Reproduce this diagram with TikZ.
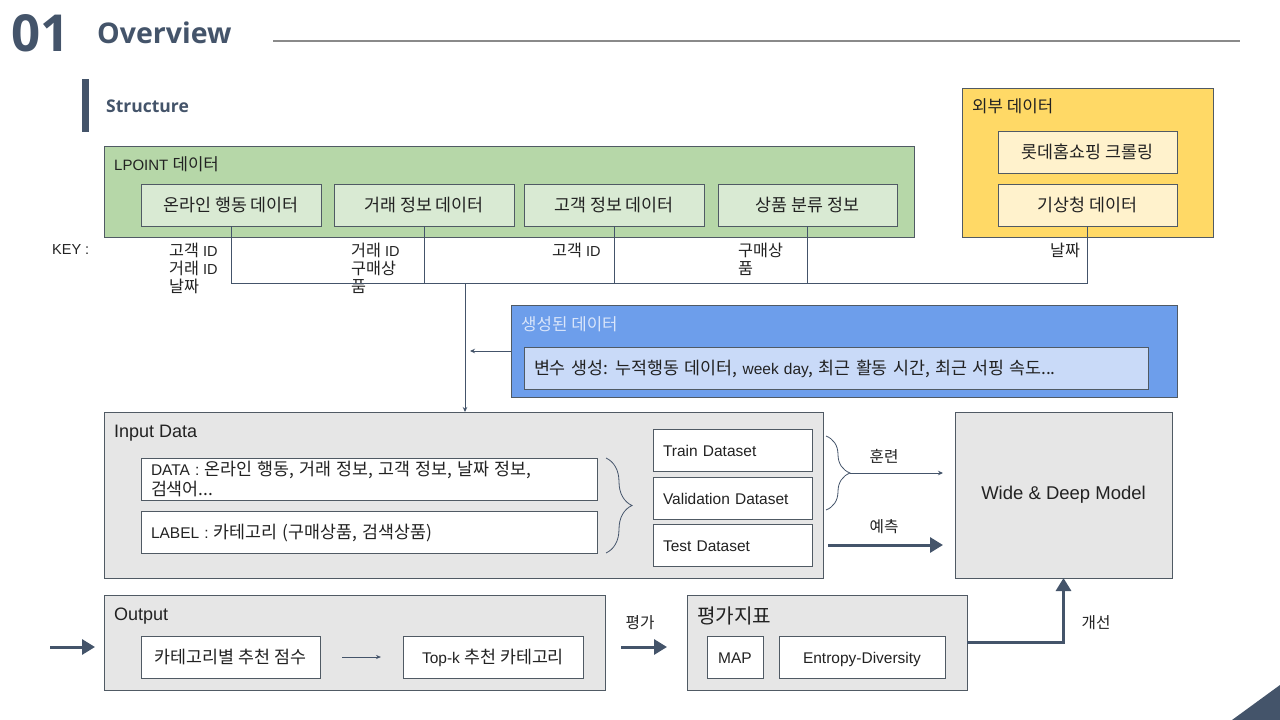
\documentclass[tikz,border=0pt]{standalone}
\usepackage{fontspec}
\setmainfont{Liberation Sans}
\newfontfamily\kr[Scale=1.12]{Noto Sans CJK KR}
\newfontfamily\hd{Open Sans}
\usetikzlibrary{arrows.meta,decorations.pathreplacing,calc}
\definecolor{slate}{HTML}{44546A}
\definecolor{bord}{HTML}{505A64}
\definecolor{txt}{HTML}{222222}
\definecolor{grn}{HTML}{B6D7A8}
\definecolor{grnl}{HTML}{D9EAD3}
\definecolor{org}{HTML}{FFD966}
\definecolor{orgl}{HTML}{FFF2CC}
\definecolor{blu}{HTML}{6D9EEB}
\definecolor{blul}{HTML}{C9DAF8}
\definecolor{gry}{HTML}{E6E6E6}
\definecolor{rulec}{HTML}{8A8A8A}
\tikzset{
  frame/.style={draw=bord, line width=0.8pt, anchor=north west, inner sep=0pt, outer sep=0pt},
  cell/.style={frame, font=\fontsize{15.5}{18}\selectfont, text=txt, text height=15pt, text depth=2pt},
  ttl/.style={anchor=west, inner sep=0pt, font=\fontsize{15}{18}\selectfont, text=txt},
  bigttl/.style={anchor=west, inner sep=0pt, font=\fontsize{18}{21}\selectfont, text=txt},
  keylbl/.style={anchor=north west, inner sep=0pt, align=left, font=\fontsize{14.5}{18}\selectfont, text=txt},
  small/.style={inner sep=0pt, font=\fontsize{14}{17}\selectfont, text=txt},
  conn/.style={draw=slate, line width=0.9pt},
  thinarrow/.style={conn, -{Stealth[length=5pt,width=4.5pt]}},
  fatarrow/.style={draw=slate, line width=3pt, -{Triangle[length=13pt,width=15pt]}},
  bracestyle/.style={draw=slate, line width=0.8pt, decorate},
}
\begin{document}
\begin{tikzpicture}[x=1pt,y=-1pt]
\useasboundingbox[fill=white] (0,0) rectangle (1280,720);

% header
\node[anchor=west, inner sep=0pt, text=slate, font=\hd\bfseries\fontsize{51}{55}\selectfont] (num) at (11,33) {01};
\node[anchor=west, inner sep=0pt, text=slate, font=\hd\bfseries\fontsize{28.5}{32}\selectfont] (ov) at (97,33) {Overview};
\coordinate (ruleA) at (273,41);
\coordinate (ruleB) at (1240,41);
\draw[rulec, line width=1.2pt] (ruleA) -- (ruleB);
\fill[slate] (82,79) rectangle (89,132);
\node[anchor=west, inner sep=0pt, text=slate, font=\hd\bfseries\fontsize{17.5}{21}\selectfont] (st) at (106,106) {Structure};

% LPOINT
\node[frame, fill=grn, minimum width=810pt, minimum height=91pt] (lp) at (104,146) {};
\node[ttl] (lpT) at (114,164) {LPOINT {\kr 데이터}};
\node[cell, fill=grnl, minimum width=180pt, minimum height=42pt] (on) at (141,184) {\kr 온라인 행동 데이터};
\node[cell, fill=grnl, minimum width=180pt, minimum height=42pt] (tr) at (334,184) {\kr 거래 정보 데이터};
\node[cell, fill=grnl, minimum width=180pt, minimum height=42pt] (cu) at (524,184) {\kr 고객 정보 데이터};
\node[cell, fill=grnl, minimum width=179pt, minimum height=42pt] (pr) at (718,184) {\kr 상품 분류 정보};

% external
\node[frame, fill=org, minimum width=251pt, minimum height=149pt] (ex) at (962,88) {};
\node[ttl] (exT) at (972,106) {\kr 외부 데이터};
\node[cell, fill=orgl, minimum width=179pt, minimum height=42pt] (lh) at (998,131) {\kr 롯데홈쇼핑 크롤링};
\node[cell, fill=orgl, minimum width=179pt, minimum height=42pt] (wt) at (998,184) {\kr 기상청 데이터};

% keys
\node[anchor=west, inner sep=0pt, font=\fontsize{14.5}{17}\selectfont, text=txt] (key) at (52,250) {KEY :};
\node[keylbl] (k1) at (169,243) {{\kr 고객} ID\\{\kr 거래} ID\\{\kr 날짜}};
\node[keylbl] (k2) at (351,243) {{\kr 거래} ID\\{\kr 구매상}\\{\kr 품}};
\node[keylbl] (k3) at (552,243) {{\kr 고객} ID};
\node[keylbl] (k4) at (738,243) {{\kr 구매상}\\{\kr 품}};
\node[keylbl] (k5) at (1050,243) {{\kr 날짜}};

% bus
\coordinate (bus) at (0,283);
\draw[conn] (on.south) |- (wt.south |- bus) -- (wt.south);
\draw[conn] (tr.south) -- (tr.south |- bus);
\draw[conn] (cu.south) -- (cu.south |- bus);
\draw[conn] (pr.south) -- (pr.south |- bus);

% generated
\node[frame, fill=blu, minimum width=666pt, minimum height=92pt] (gen) at (511,305) {};
\node[ttl, text=blul!70!white] (genT) at (521,324) {\kr 생성된 데이터};
\node[cell, fill=blul, minimum width=624pt, minimum height=42pt, text width=604pt, align=left] (var) at (524,347) {{\kr 변수 생성: 누적행동 데이터,} week day{\kr , 최근 활동 시간, 최근 서핑 속도...}};

% input data
\node[frame, fill=gry, minimum width=719pt, minimum height=166pt] (inp) at (104,412) {};
\node[bigttl] (inpT) at (114,433) {Input Data};
\node[frame, fill=white, minimum width=456pt, minimum height=42pt, text width=436pt, align=left, font=\fontsize{15.5}{20}\selectfont, text=txt] (dat) at (141,458) {DATA : {\kr 온라인 행동, 거래 정보, 고객 정보, 날짜 정보,}\\{\kr 검색어...}};
\node[cell, fill=white, minimum width=456pt, minimum height=42pt, text width=436pt, align=left] (lab) at (141,511) {LABEL : {\kr 카테고리 (구매상품, 검색상품)}};
\node[cell, fill=white, minimum width=159pt, minimum height=42pt, text width=139pt, align=left] (trn) at (653,429) {Train Dataset};
\node[cell, fill=white, minimum width=159pt, minimum height=42pt, text width=139pt, align=left] (val) at (653,477) {Validation Dataset};
\node[cell, fill=white, minimum width=159pt, minimum height=42pt, text width=139pt, align=left] (tst) at (653,524) {Test Dataset};

\coordinate (b1a) at (606,458);
\coordinate (b1b) at (606,553);
\draw[bracestyle, decoration={brace, amplitude=26pt}] (b1a) -- (b1b);
\coordinate (b2a) at (826,436);
\coordinate (b2b) at (826,510);
\coordinate (b2tip) at (850,473);
\draw[bracestyle, decoration={brace, amplitude=24pt}] (b2a) -- (b2b);

% wide and deep
\node[frame, fill=gry, minimum width=217pt, minimum height=166pt, font=\fontsize{18.5}{22}\selectfont, text=txt] (wd) at (955,412) {Wide \& Deep Model};

\draw[thinarrow, shorten >=12pt] (b2tip) -- (wd.west |- b2tip);
\node[small] (trainL) at (884,456) {\kr 훈련};
\draw[fatarrow] ($(tst.east)+(16,0)$) -- ($(wd.west |- tst.east)+(-12,0)$);
\node[small] (predL) at (884,527) {\kr 예측};

% flow into input
\coordinate (split) at (465,283);
\draw[thinarrow] (split) -- (split |- inp.north);
\coordinate (genTip) at (470,351);
\draw[thinarrow] (gen.west |- genTip) -- (genTip);

% output
\node[frame, fill=gry, minimum width=501pt, minimum height=95pt] (out) at (104,595) {};
\node[bigttl] (outT) at (114,616) {Output};
\node[cell, fill=white, minimum width=179pt, minimum height=42pt] (sc) at (141,636) {\kr 카테고리별 추천 점수};
\node[cell, fill=white, minimum width=180pt, minimum height=42pt] (tk) at (403,636) {Top-k {\kr 추천 카테고리}};
\draw[conn, -{Stealth[length=5pt,width=4pt]}, line width=0.7pt] ($(sc.east)+(22,0)$) -- ($(tk.west)+(-22,0)$);
\coordinate (inStart) at (50,647);
\draw[fatarrow] (inStart) -- ($(out.west |- inStart)+(-9,0)$);

% evaluation
\node[frame, fill=gry, minimum width=280pt, minimum height=95pt] (ev) at (687,595) {};
\node[bigttl] (evT) at (697,616) {\kr 평가지표};
\node[cell, fill=white, minimum width=56pt, minimum height=42pt] (map) at (707,636) {MAP};
\node[cell, fill=white, minimum width=166pt, minimum height=42pt] (ent) at (779,636) {Entropy-Diversity};
\coordinate (evIn) at (621,647);
\draw[fatarrow] (evIn) -- ($(ev.west |- evIn)+(-20,0)$);
\node[small] (evalL) at (640,623) {\kr 평가};
\draw[fatarrow] (ev.east) -| (wd.south);
\node[small] (impL) at (1096,623) {\kr 개선};

% corner
\fill[slate] (1232,720) -- (1280,685) -- (1280,720) -- cycle;
\end{tikzpicture}
\end{document}
